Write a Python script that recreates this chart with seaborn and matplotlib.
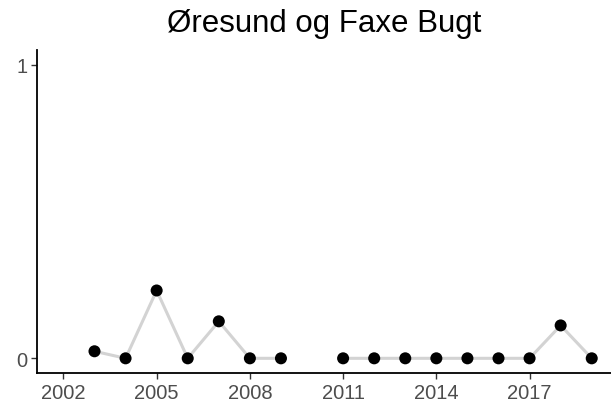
import pandas as pd
import numpy as np
import matplotlib.pyplot as plt
import seaborn as sns

# Values (2010 is missing)
years = [2003, 2004, 2005, 2006, 2007, 2008, 2009,
         2011, 2012, 2013, 2014, 2015, 2016, 2017, 2018, 2019]
values = [0.024, 0.0, 0.231, 0.0, 0.126, 0.0, 0.0,
          0.0, 0.0, 0.0, 0.0, 0.0, 0.0, 0.0, 0.112, 0.0]
segments = [1, 1, 1, 1, 1, 1, 1,
            2, 2, 2, 2, 2, 2, 2, 2, 2]
x_ticks = [2002, 2005, 2008, 2011, 2014, 2017]
y_ticks = [0, 1]

df = pd.DataFrame({'year': years, 'value': values, 'segment': segments})

sns.set_style('white')
plt.rcParams['font.family'] = ['Liberation Sans', 'DejaVu Sans']

fig = plt.figure(figsize=(6.11, 4.10), dpi=100)
ax = fig.add_axes([37 / 611, 1 - 374 / 410, 1 - 37 / 611, (374 - 51) / 410])

# grey connecting line, broken where a year is missing
sns.lineplot(data=df, x='year', y='value', units='segment', estimator=None,
             color='#d3d3d3', linewidth=2.2, ax=ax, zorder=1)
sns.scatterplot(data=df, x='year', y='value', color='black', s=75,
                edgecolor='none', ax=ax, zorder=2)

ax.set_xlim(2001.15, 2019.62)
ax.set_ylim(-0.05, 1.05)
ax.set_xticks(x_ticks)
ax.set_yticks(y_ticks)
ax.set_xlabel('')
ax.set_ylabel('')

for side in ['top', 'right']:
    ax.spines[side].set_visible(False)
for side in ['left', 'bottom']:
    ax.spines[side].set_color('black')
    ax.spines[side].set_linewidth(1.3)

ax.tick_params(axis='both', which='major', length=4.5, width=1, color='#333333',
               labelsize=14.5, labelcolor='#4d4d4d', pad=2.5, direction='out',
               bottom=True, left=True)

fig.text((37 + 611) / 2 / 611, 1 - 32 / 410, 'Øresund og Faxe Bugt',
         ha='center', va='baseline', fontsize=22.5, color='black')

fig.savefig('out.png', dpi=100)
